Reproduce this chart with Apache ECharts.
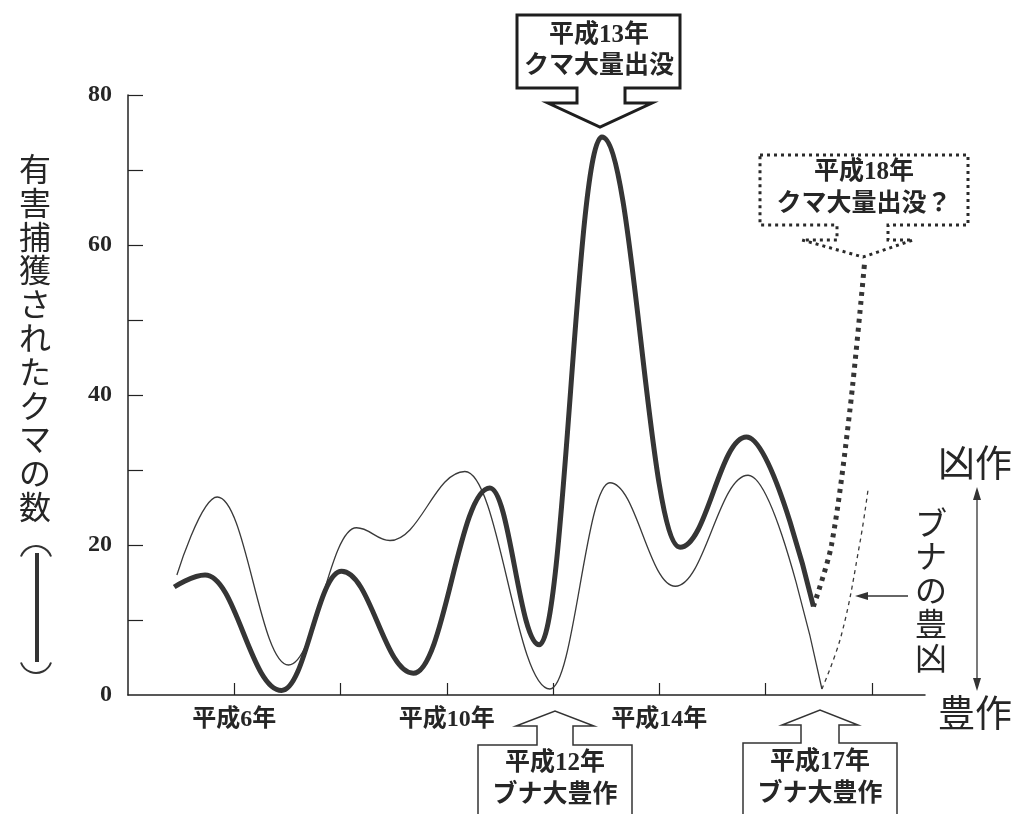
<!DOCTYPE html>
<html><head><meta charset="utf-8">
<script src="https://cdn.jsdelivr.net/npm/echarts@6/dist/echarts.min.js"></script>
<style>html,body{margin:0;padding:0;background:#fff}#c{width:1017px;height:814px}</style>
</head><body><div id="c"></div>
<script>
// ---- data (x = 平成 year) ----
const bearYears = [4.87, 5.45, 6.89, 8.02, 9.37, 10.81, 11.74, 12.92, 14.39, 15.64, 16.90];
const bearCounts = [14.4, 16.0, 0.6, 16.5, 2.9, 27.6, 6.7, 74.4, 19.7, 34.4, 11.8];
const bearForecastYears = [16.90, 17.24, 17.59, 17.86];
const bearForecastCounts = [11.8, 20.0, 38.2, 57.4];
const beechYears = [4.92, 5.68, 7.02, 8.30, 8.93, 10.34, 11.94, 13.07, 14.30, 15.67, 17.06];
const beechIndex = [16.0, 26.4, 4.0, 22.3, 20.6, 29.8, 0.8, 28.3, 14.5, 29.3, 0.8];
const beechForecastYears = [17.06, 17.43, 17.78, 17.93];
const beechForecastIndex = [0.8, 8.1, 20.5, 27.5];
const xTickYears = [6, 8, 10, 12, 14, 16, 18];
const xLabelYears = [6, 10, 14];
const yTickValues = [10, 20, 30, 40, 50, 60, 70, 80];
const yLabelValues = [0, 20, 40, 60, 80];
const yAxisTitle = '有害捕獲されたクマの数';

const zip = (xs, ys) => xs.map((x, i) => [x, ys[i]]);
const serifCJK = "'Liberation Serif','Noto Sans CJK JP',serif";
const gothic = "'Noto Sans CJK JP',sans-serif";
const ink = '#262626';

function txt(x, y, text, size, weight, family, lh, vAlign) {
  return {
    type: 'text', x: x, y: y, z: 110,
    style: {
      text: text, fill: ink, font: (weight || 'normal') + ' ' + size + 'px ' + family,
      fontSize: size, fontWeight: weight || 'normal', fontFamily: family,
      lineHeight: lh || size * 1.2,
      align: 'center', verticalAlign: vAlign || 'middle',
      textAlign: 'center', textVerticalAlign: vAlign || 'middle'
    }
  };
}
function poly(points, style) {
  return { type: 'polygon', z: 100, shape: { points: points }, style: style };
}

const graphics = [
  // top callout 平成13年
  poly([[517,15],[680,15],[680,88],[625,88],[625,103],[652,103],[600,127],[548,103],[577,103],[577,88],[517,88]],
       { fill: '#fff', stroke: '#1e1e1e', lineWidth: 3 }),
  txt(599, 51, '平成13年\nクマ大量出没', 25, 'bold', serifCJK, 31),
  // dashed callout 平成18年
  poly([[760,155],[968,155],[968,225],[888,225],[888,240],[913,240],[863,257],[802,240],[837,240],[837,225],[760,225]],
       { fill: '#fff', stroke: '#2a2a2a', lineWidth: 3, lineDash: [3, 4] }),
  txt(864, 189, '平成18年\nクマ大量出没？', 25, 'bold', serifCJK, 32),
  // bottom callout 平成12年
  poly([[478,840],[478,745],[537,745],[537,726],[516,726],[555,711],[594,726],[573,726],[573,745],[632,745],[632,840]],
       { fill: '#fff', stroke: '#333', lineWidth: 1.5 }),
  txt(555, 780, '平成12年\nブナ大豊作', 25, 'bold', serifCJK, 32),
  // bottom callout 平成17年
  poly([[743,840],[743,743],[801,743],[801,725],[782,725],[820,710],[858,725],[839,725],[839,743],[897,743],[897,840]],
       { fill: '#fff', stroke: '#333', lineWidth: 1.5 }),
  txt(820, 779, '平成17年\nブナ大豊作', 25, 'bold', serifCJK, 32),
  // right side legend of beech crop
  txt(975, 463, '凶作', 37, 'normal', gothic),
  txt(975, 713, '豊作', 37, 'normal', gothic),
  txt(931, 590, 'ブ\nナ\nの\n豊\n凶', 32, 'normal', gothic, 33.8),
  { type: 'line', z: 100, shape: { x1: 977, y1: 496, x2: 977, y2: 682 }, style: { stroke: '#333', lineWidth: 1.3 } },
  poly([[977,487],[973,500],[981,500]], { fill: '#333' }),
  poly([[977,691],[973,678],[981,678]], { fill: '#333' }),
  { type: 'line', z: 100, shape: { x1: 864, y1: 596, x2: 908, y2: 596 }, style: { stroke: '#333', lineWidth: 1.3 } },
  poly([[855,596],[868,592],[868,600]], { fill: '#333' }),
  // y axis title (vertical)
  txt(35, 152, yAxisTitle.split('').join('\n'), 32, 'normal', gothic, 33.8, 'top'),
  { type: 'arc', z: 100, shape: { cx: 36, cy: 562, r: 16, startAngle: Math.PI * 200 / 180, endAngle: Math.PI * 340 / 180 }, style: { stroke: '#333', lineWidth: 2, fill: null } },
  { type: 'line', z: 100, shape: { x1: 37, y1: 553, x2: 37, y2: 662 }, style: { stroke: '#333', lineWidth: 4 } },
  { type: 'arc', z: 100, shape: { cx: 36, cy: 657, r: 16, startAngle: Math.PI * 20 / 180, endAngle: Math.PI * 160 / 180 }, style: { stroke: '#333', lineWidth: 2, fill: null } }
];

const chart = echarts.init(document.getElementById('c'), null, { renderer: 'canvas' });
chart.setOption({
  animation: false,
  backgroundColor: '#fff',
  grid: { left: 128, right: 92, top: 95, bottom: 119 },
  xAxis: {
    type: 'value', min: 4, max: 19, interval: 2,
    splitLine: { show: false },
    axisLine: { lineStyle: { color: '#222', width: 1.5 } },
    axisTick: { inside: true, length: 12, customValues: xTickYears, lineStyle: { color: '#222', width: 1.2 } },
    axisLabel: {
      customValues: xLabelYears, margin: 13,
      formatter: v => '平成' + v + '年',
      color: ink, fontSize: 24, fontWeight: 'bold', fontFamily: serifCJK
    }
  },
  yAxis: {
    type: 'value', min: 0, max: 80, interval: 10,
    splitLine: { show: false },
    axisLine: { show: true, lineStyle: { color: '#222', width: 1.5 } },
    axisTick: { show: true, inside: true, length: 15, customValues: yTickValues, lineStyle: { color: '#222', width: 1.2 } },
    axisLabel: {
      customValues: yLabelValues, margin: 16,
      color: ink, fontSize: 24, fontWeight: 'bold', fontFamily: serifCJK
    }
  },
  series: [
    { name: 'ブナの豊凶', type: 'line', data: zip(beechYears, beechIndex), smooth: 0.4, smoothMonotone: 'x',
      showSymbol: false, lineStyle: { color: '#3a3a3a', width: 1.3 }, z: 2 },
    { name: 'ブナの豊凶(予測)', type: 'line', data: zip(beechForecastYears, beechForecastIndex), smooth: 0.4,
      showSymbol: false, lineStyle: { color: '#3a3a3a', width: 1.3, type: [4, 4] }, z: 2 },
    { name: '有害捕獲されたクマの数', type: 'line', data: zip(bearYears, bearCounts), smooth: 0.4, smoothMonotone: 'x',
      showSymbol: false, lineStyle: { color: '#353535', width: 5 }, z: 3 },
    { name: 'クマ大量出没？', type: 'line', data: zip(bearForecastYears, bearForecastCounts), smooth: 0.3,
      showSymbol: false, lineStyle: { color: '#353535', width: 5, type: [4, 5], cap: 'butt' }, z: 3 }
  ],
  graphic: { elements: graphics }
});
</script>
</body></html>
